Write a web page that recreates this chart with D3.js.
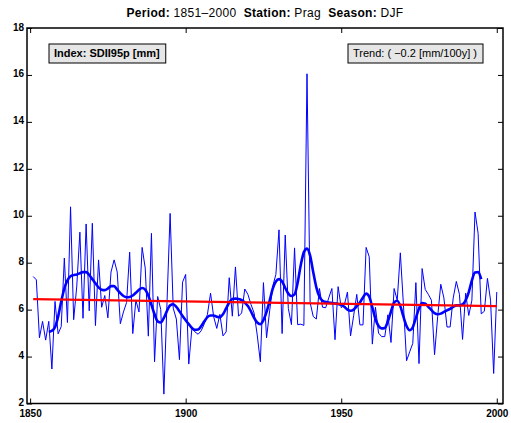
<!DOCTYPE html>
<html><head><meta charset="utf-8">
<script src="https://cdn.jsdelivr.net/npm/d3@7"></script>
<style>
body{margin:0;background:#fff}
svg{display:block}
text{font-family:"Liberation Sans",Arial,Helvetica,sans-serif}
</style>
</head><body>
<svg id="c" width="511" height="423"></svg>
<script>
// ---- data ----
const startYear = 1851;
const values = [
 7.41,7.27,4.80,5.50,4.70,5.50,3.47,6.35,4.97,5.28,
 8.20,5.45,10.38,5.57,7.00,9.30,5.63,9.65,5.95,9.68,
 5.32,8.12,6.10,6.60,5.65,7.60,8.12,7.60,5.40,5.90,
 6.30,8.45,4.98,6.40,5.90,8.65,7.77,4.87,9.25,3.78,
 6.56,6.00,2.40,6.30,10.10,6.06,5.60,3.87,7.17,7.50,
 3.68,5.20,5.05,4.95,5.10,5.40,5.80,6.70,5.70,5.20,
 5.80,4.88,5.05,7.36,5.72,7.82,5.72,5.86,6.88,6.65,
 6.22,5.85,4.92,3.78,7.15,4.80,5.95,7.00,7.50,9.40,
 4.98,9.18,6.05,5.36,8.63,5.36,5.38,5.33,16.05,6.30,
 5.71,5.60,6.90,6.10,6.08,6.50,6.90,4.72,6.98,6.08,
 6.20,6.75,4.88,5.75,6.65,5.35,5.35,8.65,8.25,4.53,
 6.10,5.00,4.85,4.85,5.78,4.60,6.90,6.40,8.42,6.20,
 3.82,4.20,4.56,7.15,3.70,7.75,6.86,6.65,6.40,4.08,
 5.70,7.08,6.50,5.26,5.26,6.50,7.20,6.65,4.73,6.70,
 5.75,6.40,10.16,9.25,5.82,5.93,7.33,6.40,3.28,6.75
];
const smoothStart = 1856;
const smoothValues = [
 5.05,5.10,5.25,5.70,6.35,6.90,7.25,7.42,7.47,7.50,
 7.55,7.60,7.60,7.48,7.30,7.12,6.95,6.85,6.83,6.90,
 7.00,7.00,6.85,6.70,6.58,6.53,6.54,6.60,6.72,6.85,
 6.92,6.85,6.60,6.20,5.80,5.50,5.45,5.65,5.95,6.18,
 6.23,6.12,5.93,5.73,5.55,5.38,5.22,5.14,5.15,5.30,
 5.50,5.68,5.75,5.75,5.70,5.68,5.80,6.05,6.30,6.45,
 6.47,6.45,6.40,6.30,6.15,5.92,5.65,5.45,5.38,5.55,
 5.90,6.38,6.90,7.20,7.30,7.20,6.92,6.68,6.58,6.65,
 7.15,7.90,8.45,8.60,8.30,7.60,6.95,6.55,6.38,6.33,
 6.30,6.28,6.26,6.24,6.20,6.12,6.00,5.95,6.00,6.15,
 6.30,6.52,6.68,6.55,6.10,5.60,5.30,5.20,5.22,5.50,
 5.92,6.30,6.38,6.15,5.70,5.30,5.12,5.25,5.65,6.05,
 6.28,6.25,6.12,5.98,5.85,5.80,5.83,5.90,5.97,6.03,
 6.12,6.18,6.18,6.22,6.40,6.75,7.25,7.58,7.60,7.30
];
const trendYears = [1851, 2000];
const trendValues = [6.45, 6.15];
const xTicks = [1850, 1900, 1950, 2000];
const yTicks = [2, 4, 6, 8, 10, 12, 14, 16, 18];
const titleParts = [["Period:", true], [" 1851\u20132000  ", false], ["Station:", true], [" Prag  ", false], ["Season:", true], [" DJF", false]];
const indexLabel = "Index: SDII95p [mm]";
const trendLabel = "Trend: ( \u22120.2 [mm/100y] )";

// ---- layout ----
const L = 27, R = 503, T = 28, B = 403.5;
const svg = d3.select("#c");
const x = d3.scaleLinear().domain([1849, 2002]).range([L, R]);
const y = d3.scaleLinear().domain([2, 18]).range([B, T]);

const series = values.map((v, i) => [startYear + i, v]);
const smooth = smoothValues.map((v, i) => [smoothStart + i, v]);
const trend = trendYears.map((yr, i) => [yr, trendValues[i]]);

svg.append("defs").append("clipPath").attr("id", "clip")
  .append("rect").attr("x", L).attr("y", T).attr("width", R - L).attr("height", B - T);

const g = svg.append("g").attr("clip-path", "url(#clip)");
const line = d3.line().x(d => x(d[0])).y(d => y(d[1]));

g.append("path").datum(series).attr("d", line)
  .attr("fill", "none").attr("stroke", "#0000ff").attr("stroke-width", 1);
g.append("path").datum(smooth).attr("d", d3.line().x(d => x(d[0])).y(d => y(d[1])).curve(d3.curveMonotoneX))
  .attr("fill", "none").attr("stroke", "#0000ff").attr("stroke-width", 2.6);
g.append("path").datum(trend).attr("d", line)
  .attr("fill", "none").attr("stroke", "#ff0000").attr("stroke-width", 2.2);

// axes
svg.append("g").attr("transform", `translate(0,${B})`)
  .call(d3.axisBottom(x).tickValues(xTicks).tickFormat(d3.format("d")).tickSizeInner(-5).tickSizeOuter(0).tickPadding(6));
const axL = svg.append("g").attr("transform", `translate(${L},0)`)
  .call(d3.axisLeft(y).tickValues(yTicks).tickSizeInner(-5).tickSizeOuter(0).tickPadding(3));
axL.selectAll(".tick text").attr("dy", "0.2em");
svg.append("g").attr("transform", `translate(0,${T})`)
  .call(d3.axisTop(x).tickValues(xTicks).tickFormat("").tickSizeInner(-5).tickSizeOuter(0));
svg.append("g").attr("transform", `translate(${R},0)`)
  .call(d3.axisRight(y).tickValues(yTicks).tickFormat("").tickSizeInner(-5).tickSizeOuter(0));
svg.selectAll(".domain").remove();
svg.selectAll(".tick line").attr("stroke", "#000").attr("stroke-width", 1);
svg.selectAll(".tick text").attr("font-size", 10).attr("font-weight", "bold")
  .attr("font-family", "'Liberation Sans',Arial,sans-serif").attr("fill", "#000");

svg.append("rect").attr("x", L).attr("y", T).attr("width", R - L).attr("height", B - T)
  .attr("fill", "none").attr("stroke", "#000").attr("stroke-width", 1.5);

// title
const title = svg.append("text").attr("x", (L + R) / 2).attr("y", 17)
  .attr("text-anchor", "middle").attr("font-size", 12).attr("letter-spacing", 0.3)
  .attr("fill", "#000").attr("style", "white-space:pre");
titleParts.forEach(([t, b]) => {
  title.append("tspan").attr("style", "white-space:pre").attr("font-weight", b ? "bold" : "normal").text(t);
});

// label boxes
function box(xl, txt, bold) {
  const grp = svg.append("g");
  const t = grp.append("text").attr("x", xl + 5).attr("y", 57).attr("font-size", 11)
    .attr("font-weight", bold ? "bold" : "normal").attr("fill", "#000").text(txt);
  const w = t.node().getComputedTextLength();
  grp.insert("rect", "text").attr("x", xl).attr("y", 44).attr("width", w + 11).attr("height", 19)
    .attr("fill", "#e6e6e6").attr("stroke", "#000").attr("stroke-width", 1);
}
box(49, indexLabel, true);
box(348, trendLabel, false);
</script>
</body></html>
